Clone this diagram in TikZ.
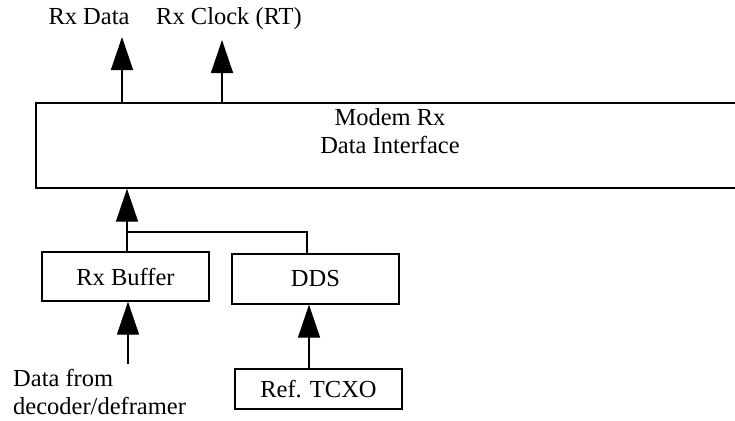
\documentclass[tikz,border=0pt]{standalone}
\usepackage{fontspec}
\setmainfont{Liberation Serif}
\usetikzlibrary{arrows.meta}
\begin{document}
\begin{tikzpicture}[x=1pt,y=-1pt,
  txt/.style={font=\fontsize{24.5}{28}\selectfont, inner sep=0pt},
  box/.style={draw, line width=1.4pt, minimum width=167pt, inner sep=0pt, txt},
  conn/.style={line width=1.4pt},
  arr/.style={conn, -{Triangle[length=33pt,width=22pt]}}]
\useasboundingbox (0,0) rectangle (735,420);
\clip (0,0) rectangle (735,420);
% main interface block (continues past the right edge)
\node[box, minimum width=709pt, minimum height=85pt] (modem) at (390.5,145.5) {};
\node[txt, align=center] (modemtext) at (390,131.5) {Modem Rx\\Data Interface};
% lower blocks
\node[box, minimum height=49pt] (buffer) at (125.5,276.5) {Rx Buffer};
\node[box, minimum height=50pt] (dds) at (315.5,279) {DDS};
\node[box, minimum height=40pt] (tcxo) at (318.5,389) {Ref. TCXO};
% labels
\node[txt, anchor=base] (rxdata) at (89,25) {Rx Data};
\node[txt, anchor=base] (rxclock) at (229,25) {Rx Clock (RT)};
\node[txt, align=left, anchor=base west] (datafrom) at (13,414) {Data from\\decoder/deframer};
% connector points
\coordinate (rxdtip) at (122,37);
\coordinate (rxctip) at (222,40);
\coordinate (junc) at (127,232);
\coordinate (jr) at (307,232);
\coordinate (datain) at (128,364);
\coordinate (tx) at (309,0);
% connectors
\draw[arr] (modem.north -| rxdtip) -- (rxdtip);
\draw[arr] (modem.north -| rxctip) -- (rxctip);
\draw[arr] (buffer.north -| junc) -- (modem.south -| junc);
\draw[conn] (junc) -- (jr) -- (dds.north -| jr);
\draw[arr] (datain) -- (buffer.south -| datain);
\draw[arr] (tcxo.north -| tx) -- (dds.south -| tx);
\end{tikzpicture}
\end{document}
